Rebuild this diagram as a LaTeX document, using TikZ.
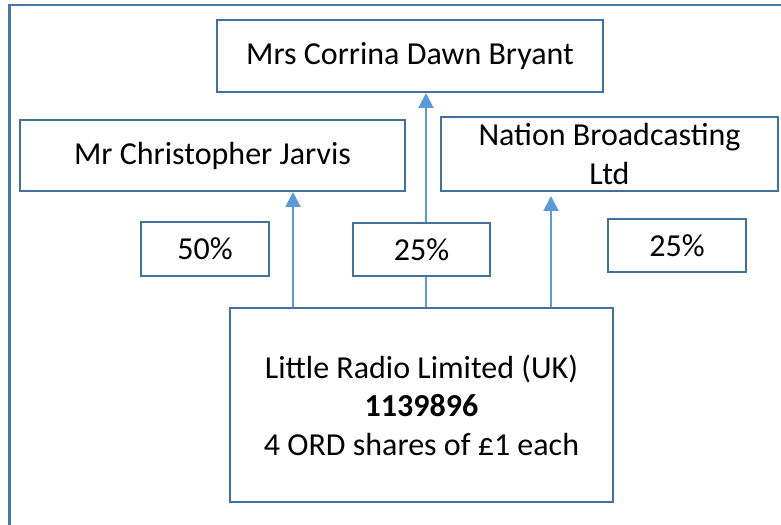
\documentclass[tikz,border=0pt]{standalone}
\usepackage{fontspec}
\setmainfont{Carlito}
\usetikzlibrary{arrows.meta}
\definecolor{boxc}{RGB}{65,113,156}
\definecolor{framec}{RGB}{72,118,168}
\definecolor{arrc}{RGB}{91,155,213}
\tikzset{
  box/.style={draw=boxc, line width=2bp, rectangle, inner sep=0pt, align=center,
    font=\fontsize{32bp}{38.5bp}\selectfont, text=black},
  arr/.style={draw=arrc, line width=2bp, -{Triangle[width=15bp,length=15bp]}},
  plain/.style={draw=arrc, line width=2bp},
  frame/.style={draw=framec, line width=2.5bp}
}
\begin{document}
\begin{tikzpicture}[x=1bp,y=-1bp]
\useasboundingbox (0,0) rectangle (781,525);
\draw[frame] (9.5,525) -- (9.5,5) -- (781,5);
\node[box, minimum width=386bp, minimum height=72bp] (bryant) at (410,56) {Mrs Corrina Dawn Bryant};
\node[box, minimum width=385bp, minimum height=71bp] (jarvis) at (212.5,155.5) {Mr Christopher Jarvis};
\node[box, minimum width=337bp, minimum height=74bp] (nation) at (609.5,154) {Nation Broadcasting\\Ltd};
\node[box, minimum width=128bp, minimum height=54bp] (p50) at (205,249) {50\%};
\node[box, minimum width=137bp, minimum height=53bp] (p25a) at (421.5,249.5) {25\%};
\node[box, minimum width=138bp, minimum height=53bp] (p25b) at (677,245.5) {25\%};
\node[box, minimum width=383bp, minimum height=194bp] (lr) at (421.5,405) {Little Radio Limited (UK)\\\textbf{1139896}\\4 ORD shares of £1 each};
\draw[arr] ([xshift=-128.5bp]lr.north) -- ([xshift=-128.5bp]lr.north |- jarvis.south);
\draw[plain] ([xshift=4.5bp]lr.north) -- ([xshift=4.5bp]lr.north |- p25a.south);
\draw[arr] ([xshift=4.5bp]lr.north |- p25a.north) -- ([xshift=4.5bp]lr.north |- bryant.south);
\draw[arr, shorten >=4bp] ([xshift=129.5bp]lr.north) -- ([xshift=129.5bp]lr.north |- nation.south);
\end{tikzpicture}
\end{document}
